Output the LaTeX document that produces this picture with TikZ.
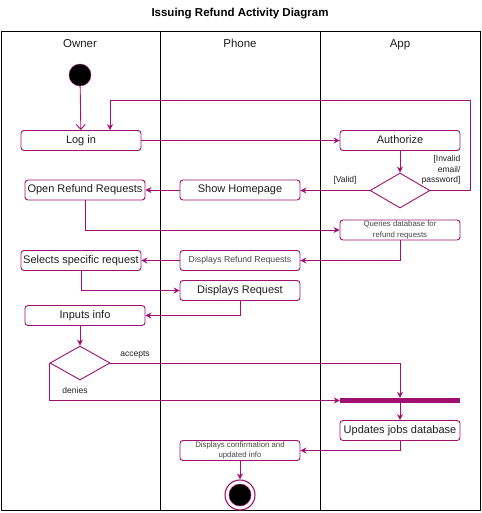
\documentclass[tikz,border=0pt]{standalone}
\usepackage{fontspec}
\setmainfont{Liberation Sans}
\usetikzlibrary{arrows.meta,shapes.geometric}
\definecolor{pur}{RGB}{160,16,112}
\definecolor{txt}{RGB}{30,30,30}
\definecolor{smalltxt}{RGB}{70,70,70}
\begin{document}
\begin{tikzpicture}[x=1pt,y=-1pt,
  act/.style={draw=pur,line width=0.9pt,rounded corners=3pt,minimum width=120pt,minimum height=20pt,inner sep=0pt,font=\fontsize{11}{13}\selectfont,text=txt,text height=8pt,text depth=2.5pt},
  sact/.style={draw=pur,line width=0.9pt,rounded corners=3pt,minimum width=120pt,minimum height=20pt,inner sep=0pt,font=\fontsize{7.8}{10.5}\selectfont,text=smalltxt,align=center},
  dec/.style={draw=pur,line width=0.9pt,diamond,aspect=1.75,inner sep=0pt,minimum width=60pt,minimum height=35pt},
  flow/.style={draw=pur,line width=0.9pt,-{Stealth[length=6pt,width=6pt]}},
  lbl/.style={font=\fontsize{8.5}{10.5}\selectfont,text=txt},
  lane/.style={font=\fontsize{11.5}{14}\selectfont,text=txt,anchor=base}]
\useasboundingbox (0,0) rectangle (481,513);
% title
\node[font=\bfseries\fontsize{11.5}{14}\selectfont] (title) at (240,14) {Issuing Refund Activity Diagram};
% frame
\draw[line width=0.9pt] (1,31) rectangle (480,510);
\draw[line width=0.9pt] (160,31) -- (160,510);
\draw[line width=0.9pt] (320,31) -- (320,510);
\node[lane] (lo) at (80,48) {Owner};
\node[lane] (lp) at (240,48) {Phone};
\node[lane] (la) at (400,48) {App};
% nodes
\node[circle,fill=black,draw=pur,line width=0.4pt,minimum size=22pt,inner sep=0pt] (start) at (80,75) {};
\node[act] (login) at (81,140.5) {Log in};
\node[act] (auth) at (400,140.5) {Authorize};
\node[dec] (d1) at (400,190.5) {};
\node[act] (home) at (240,190) {Show Homepage};
\node[act] (open) at (85,190) {Open Refund Requests};
\node[sact] (query) at (400,230) {Queries database for\\refund requests};
\node[sact,font=\fontsize{8.7}{10.5}\selectfont] (disprr) at (240,260.5) {Displays Refund Requests};
\node[act] (select) at (81,260.5) {Selects specific request};
\node[act] (disreq) at (240,290.5) {Displays Request};
\node[act] (inputs) at (85,315.5) {Inputs info};
\node[dec,minimum height=34pt] (d2) at (80,363) {};
\node[fill=pur,minimum width=120pt,minimum height=5pt,inner sep=0pt] (bar) at (400,400.5) {};
\node[act] (upd) at (400,430.5) {Updates jobs database};
\node[sact] (conf) at (240,450.5) {Displays confirmation and\\updated info};
\node[circle,draw=pur,line width=1.1pt,fill=white,minimum size=30pt,inner sep=0pt] (endo) at (240,495) {};
\node[circle,fill=black,draw=pur,line width=0.5pt,minimum size=22pt,inner sep=0pt] (endi) at (240,495) {};
% labels
\node[lbl,anchor=center] (lvalid) at (345,180) {[Valid]};
\node[lbl,align=right,anchor=east] (linv) at (464,170) {[Invalid\\email/\\password]};
\node[lbl] (lacc) at (135,355) {accepts};
\node[lbl] (lden) at (75,390) {denies};
% connectors
\draw[draw=pur,line width=0.9pt,-{Straight Barb[length=5pt,width=9pt]}] (start) -- (login);
\draw[flow] (login) -- (auth);
\draw[flow] (auth) -- (d1);
\draw[flow] (d1.east) -| (470,100) -| (login.north -| 110,0);
\draw[flow] (d1.west) -- (home.east |- d1.west);
\draw[flow] (home) -- (open);
\draw[flow] (open.south) |- (query.west);
\draw[flow] (query.south) |- (disprr.east);
\draw[flow] (disprr) -- (select);
\draw[flow] (select.south) |- (disreq.west);
\draw[flow] (disreq.south) |- (inputs.east);
\draw[flow] (inputs.south -| d2.north) -- (d2.north);
\draw[flow] (d2.east) -| (bar.north);
\draw[flow] (d2.west) |- (bar.west);
\draw[flow] (bar.south) -- (upd.north);
\draw[flow] (upd.south) |- (conf.east);
\draw[flow] (conf.south) -- (endo.north);
\end{tikzpicture}
\end{document}
